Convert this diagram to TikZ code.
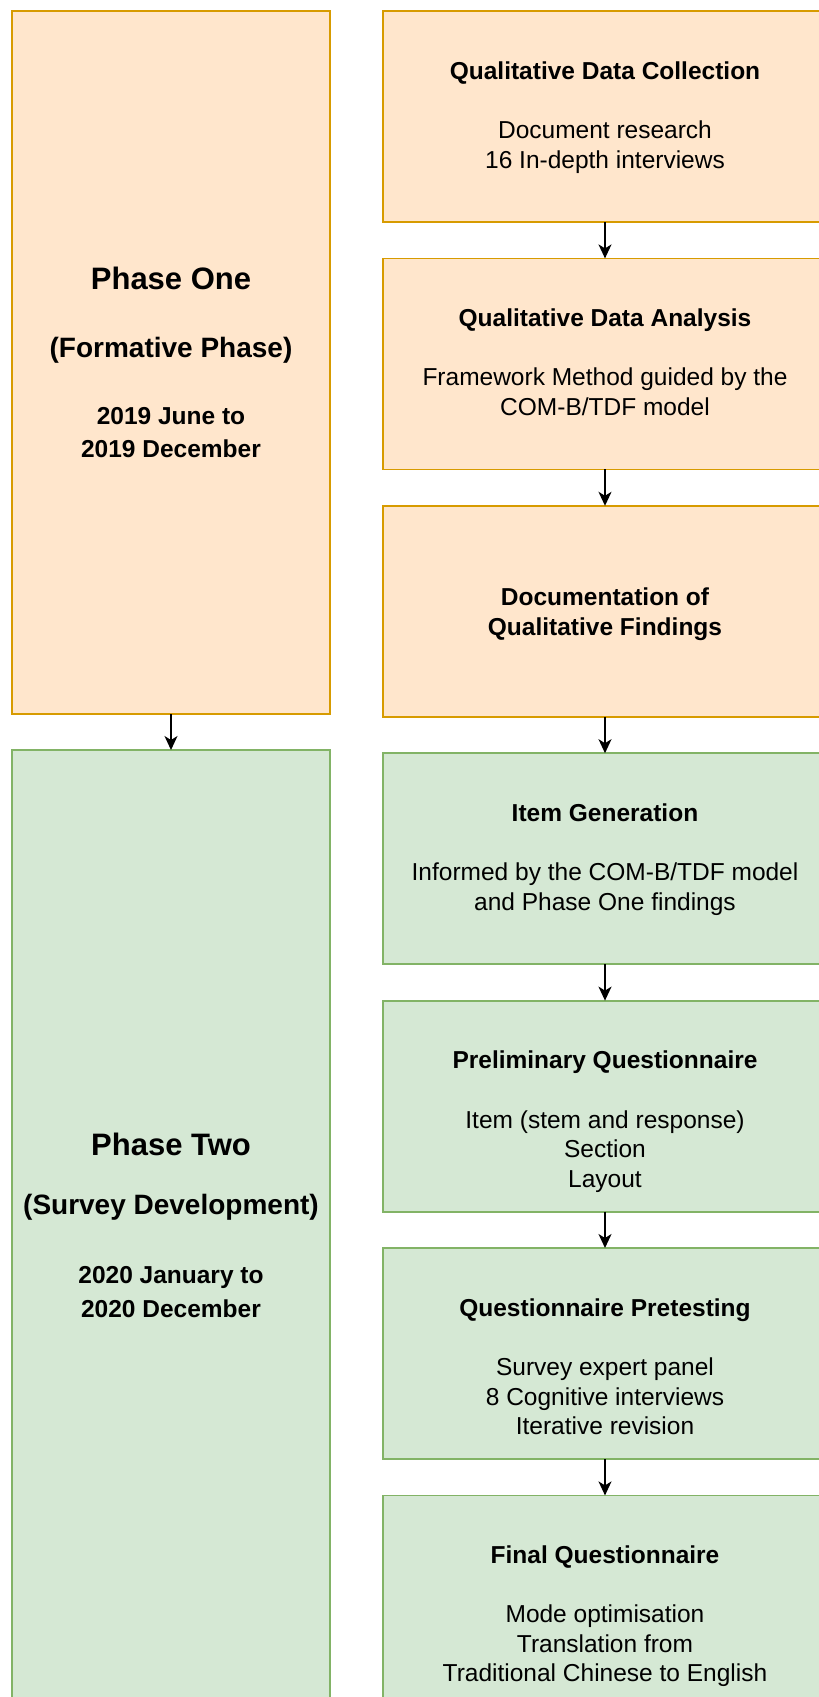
\documentclass[tikz,border=0pt]{standalone}
\usepackage{fontspec}
\setmainfont{Liberation Sans}
\usetikzlibrary{arrows.meta}
\definecolor{ofill}{HTML}{FFE6CC}
\definecolor{odraw}{HTML}{D79B00}
\definecolor{gfill}{HTML}{D5E8D4}
\definecolor{gdraw}{HTML}{82B366}
\begin{document}
\begin{tikzpicture}[x=1pt,y=-1pt,
  box/.style={rectangle, line width=1.8pt, inner sep=0pt, outer sep=0pt},
  obox/.style={box, fill=ofill, draw=odraw},
  gbox/.style={box, fill=gfill, draw=gdraw},
  rbox/.style={minimum width=444pt, minimum height=211pt},
  txt/.style={anchor=base, inner sep=0pt, font=\fontsize{24.5}{29.5}\selectfont},
  ttl/.style={anchor=base, inner sep=0pt, font=\fontsize{24.5}{29.5}\selectfont\bfseries},
  phase/.style={anchor=base, inner sep=0pt, font=\fontsize{31}{36}\selectfont\bfseries},
  sub/.style={anchor=base, inner sep=0pt, font=\fontsize{28}{33}\selectfont\bfseries},
  arr/.style={-{Stealth[length=14pt,width=13pt,inset=4pt]}, line width=1.6pt, black}
]
\useasboundingbox (0,0) rectangle (819,1697);
\clip (0,0) rectangle (819,1697);

% left column
\node[obox, minimum width=318pt, minimum height=703pt] (p1) at (171,362.5) {};
\node[gbox, minimum width=318pt, minimum height=956pt] (p2) at (171,1228) {};

\node[phase] (p1a) at (171,289) {Phase One};
\node[sub]   (p1b) at (171,357) {(Formative Phase)};
\node[ttl]   (p1c) at (171,424) {2019 June to};
\node[ttl]   (p1d) at (171,457) {2019 December};

\node[phase] (p2a) at (171,1155) {Phase Two};
\node[sub]   (p2b) at (171,1214) {(Survey Development)};
\node[ttl]   (p2c) at (171,1283) {2020 January to};
\node[ttl]   (p2d) at (171,1317) {2020 December};

% right column boxes
\node[obox, rbox] (b1) at (605,116.5) {};
\node[obox, rbox] (b2) at (605,363.9) {};
\node[obox, rbox] (b3) at (605,611.3) {};
\node[gbox, rbox] (b4) at (605,858.7) {};
\node[gbox, rbox] (b5) at (605,1106.1) {};
\node[gbox, rbox] (b6) at (605,1353.5) {};
\node[gbox, rbox] (b7) at (605,1600.9) {};

% texts
\node[ttl] (b1t) at (605,79) {Qualitative Data Collection};
\node[txt] (b1x) at (605,138.5) {Document research};
\node[txt] (b1y) at (605,168) {16 In-depth interviews};

\node[ttl] (b2t) at (605,326.4) {Qualitative Data Analysis};
\node[txt] (b2x) at (605,385.9) {Framework Method guided by the};
\node[txt] (b2y) at (605,415.4) {COM-B/TDF model};

\node[ttl] (b3t) at (605,605.3) {Documentation of};
\node[ttl] (b3x) at (605,635.8) {Qualitative Findings};

\node[ttl] (b4t) at (605,821.2) {Item Generation};
\node[txt] (b4x) at (605,880.7) {Informed by the COM-B/TDF model};
\node[txt] (b4y) at (605,910.2) {and Phase One findings};

\node[ttl] (b5t) at (605,1068.6) {Preliminary Questionnaire};
\node[txt] (b5x) at (605,1128.1) {Item (stem and response)};
\node[txt] (b5y) at (605,1157.6) {Section};
\node[txt] (b5z) at (605,1187.1) {Layout};

\node[ttl] (b6t) at (605,1316) {Questionnaire Pretesting};
\node[txt] (b6x) at (605,1375.5) {Survey expert panel};
\node[txt] (b6y) at (605,1405) {8 Cognitive interviews};
\node[txt] (b6z) at (605,1434.5) {Iterative revision};

\node[ttl] (b7t) at (605,1563.4) {Final Questionnaire};
\node[txt] (b7x) at (605,1622.9) {Mode optimisation};
\node[txt] (b7y) at (605,1652.4) {Translation from};
\node[txt] (b7z) at (605,1681.9) {Traditional Chinese to English};

% arrows
\draw[arr] (p1.south) -- (p2.north);
\draw[arr] (b1.south) -- (b2.north);
\draw[arr] (b2.south) -- (b3.north);
\draw[arr] (b3.south) -- (b4.north);
\draw[arr] (b4.south) -- (b5.north);
\draw[arr] (b5.south) -- (b6.north);
\draw[arr] (b6.south) -- (b7.north);
\end{tikzpicture}
\end{document}
